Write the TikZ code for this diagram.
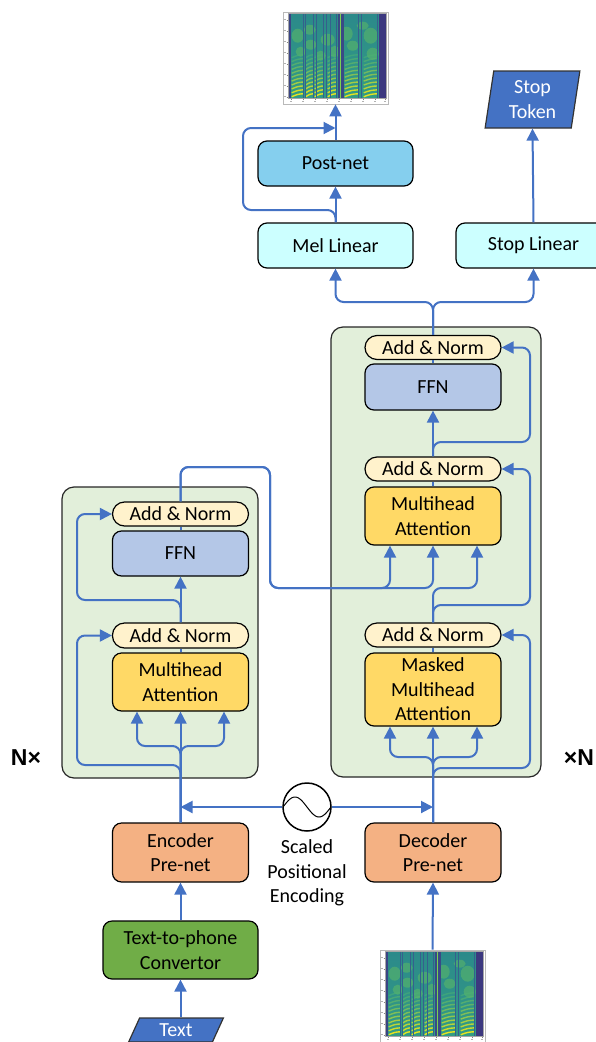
\documentclass[tikz,border=0pt]{standalone}
\usepackage{fontspec}
\setmainfont{Carlito}
\newfontfamily\nfont{Liberation Sans}
\usetikzlibrary{arrows.meta,shapes.geometric,calc}

\definecolor{cblue}{HTML}{4472C4}
\definecolor{blockg}{HTML}{E2EFDA}
\definecolor{anfill}{HTML}{FFF2CC}
\definecolor{ffnfill}{HTML}{B4C7E7}
\definecolor{mhafill}{HTML}{FFD966}
\definecolor{prefill}{HTML}{F4B183}
\definecolor{convfill}{HTML}{70AD47}
\definecolor{linfill}{HTML}{CCFFFF}
\definecolor{postfill}{HTML}{85CFEE}
\definecolor{tokfill}{HTML}{4472C4}
\definecolor{vd}{HTML}{3E2A7A}
\definecolor{vb}{HTML}{35608D}
\definecolor{vbase}{HTML}{2A8E8A}
\definecolor{vg}{HTML}{3DAE7C}
\definecolor{vl}{HTML}{7AD151}
\definecolor{vy}{HTML}{E8E41E}

\newcommand\txtsz{\fontsize{20}{24.5}\selectfont}

\tikzset{
  boxbase/.style={draw=black, line width=1.2pt, rounded corners=9pt, align=center,
    font=\txtsz, inner sep=0pt, text=black},
  addnorm/.style={boxbase, fill=anfill, minimum width=136pt, minimum height=24pt, rounded corners=12pt},
  ffnbox/.style={boxbase, fill=ffnfill, minimum width=136pt, minimum height=46pt},
  mhabox/.style={boxbase, fill=mhafill, minimum width=136pt, minimum height=58pt},
  prebox/.style={boxbase, fill=prefill, minimum width=136pt, minimum height=59pt},
  convbox/.style={boxbase, fill=convfill, minimum width=155pt, minimum height=58pt},
  linbox/.style={boxbase, fill=linfill, minimum width=155pt, minimum height=45pt},
  postbox/.style={boxbase, fill=postfill, minimum width=155pt, minimum height=45pt},
  blockbox/.style={draw=black!85, line width=1.2pt, fill=blockg, rounded corners=12pt, inner sep=0pt},
  tokbox/.style={trapezium, trapezium stretches=true, draw=black!80, line width=1.2pt, fill=tokfill,
    text=white, font=\txtsz, align=center, inner sep=0pt},
  specbox/.style={draw=gray!55, line width=0.6pt, fill=white, minimum width=105pt, minimum height=92pt, inner sep=0pt},
  conn/.style={draw=cblue, line width=2pt, rounded corners=8pt},
  arr/.style={conn, -{Triangle[width=12pt,length=12pt]}},
  nlabel/.style={font=\nfont\bfseries\fontsize{23}{26}\selectfont, inner sep=0pt},
}

\newcommand\specdraw[1]{%
  \begin{scope}[shift={(#1.north west)}]
    \begin{scope}
    \clip (5.5,1.5) rectangle (103.5,87);
    \shade[top color=vbase!90!vb, bottom color=vbase!55!vg] (5.5,1.5) rectangle (103.5,87);
    % upper formant blobs
    \foreach \cx/\cy/\rx/\ry in {15/24/6/7, 27/18/6/5, 28/33/6/5, 45/28/7/6, 52/40/5/6, 64/22/6/7,
        70/34/6/5, 88/24/7/8, 90/42/6/6, 38/44/5/5, 18/40/5/5, 80/14/6/4}{
      \fill[vl, opacity=0.35] (\cx,\cy) ellipse [x radius=\rx, y radius=\ry];
    }
    % harmonic streaks
    \foreach \a/\b in {9/21,23/31,32/41,45/54,62/76,81/95}{
      \foreach \k in {0,...,10}{
        \pgfmathsetmacro\mix{100-9*\k}
        \draw[vy!\mix!vg, line width=1.4pt, opacity={1-0.05*\k}]
          (\a,{85-\k*3.9}) .. controls ({(\a+\b)/2},{84-\k*3.9-1.5}) .. (\b,{84-\k*3.9-2});
      }
    }
    % dark vertical lines
    \foreach \xx in {21,23,31,34,41,44,48,54,76,79,95}{
      \draw[vb, line width=1pt] (\xx,1.5) -- (\xx,87);
    }
    \fill[vd!50!vb] (5.5,1.5) rectangle (8.5,87);
    \fill[vd!40!vb] (55,1.5) rectangle (61,87);
    \draw[vl, line width=1.2pt] (58,1.5) -- (58,87);
    \fill[vd!75!vb] (96,1.5) rectangle (103.5,87);
    \end{scope}
    \draw[gray!70, line width=0.5pt] (5.5,1.5) rectangle (103.5,87);
    % ticks and tiny labels
    \foreach \yy in {8,19,30,41,52,63,74,85}{
      \draw[gray, line width=0.4pt] (4,\yy) -- (5.5,\yy);
      \fill[gray!60] (1.5,{\yy-0.6}) rectangle (3.5,{\yy+0.6});
    }
    \foreach \xx in {8,20,32,44,56,68,80,92,102}{
      \draw[gray, line width=0.4pt] (\xx,87) -- (\xx,88.5);
      \fill[gray!60] ({\xx-1.2},89.5) rectangle ({\xx+1.2},90.7);
    }
  \end{scope}}

\begin{document}
\begin{tikzpicture}[x=1pt,y=-1pt]
\useasboundingbox (0,0) rectangle (595,1042);

% blocks
\node[blockbox, minimum width=196pt, minimum height=291pt] (encblk) at (160,632.5) {};
\node[blockbox, minimum width=210pt, minimum height=450pt] (decblk) at (436,552) {};

% spectrograms
\node[specbox] (spec1) at (335.5,58) {};
\specdraw{spec1}
\node[specbox] (spec2) at (432.5,996) {};
\specdraw{spec2}

% top nodes
\node[postbox] (post) at (335.5,163.5) {Post-net};
\node[linbox] (mel) at (335.5,245.5) {Mel Linear};
\node[linbox] (stopl) at (533.5,245.5) {Stop Linear};
\node[tokbox, trapezium left angle=82, trapezium right angle=98, minimum width=95pt, minimum height=57pt]
  (stoptok) at (532.5,99.5) {Stop\\Token};

% decoder stack
\node[addnorm] (dan3) at (433,347.5) {Add \& Norm};
\node[ffnbox] (dffn) at (433,387) {FFN};
\node[addnorm] (dan2) at (433,469) {Add \& Norm};
\node[mhabox] (dmha) at (433,516) {Multihead\\Attention};
\node[addnorm] (dan1) at (433,635) {Add \& Norm};
\node[mhabox, minimum height=73pt] (dmmha) at (433,689.5) {Masked\\Multihead\\Attention};

% encoder stack
\node[addnorm] (ean2) at (180.5,514) {Add \& Norm};
\node[ffnbox, minimum height=45pt] (effn) at (180.5,553.5) {FFN};
\node[addnorm, minimum height=25pt] (ean1) at (180.5,635.5) {Add \& Norm};
\node[mhabox] (emha) at (180.5,682) {Multihead\\Attention};

% bottom nodes
\node[prebox] (encpre) at (180.5,852.5) {Encoder\\Pre-net};
\node[prebox] (decpre) at (433,852.5) {Decoder\\Pre-net};
\node[convbox] (conv) at (180.5,950) {Text-to-phone\\Convertor};
\node[tokbox, trapezium left angle=69, trapezium right angle=111, minimum width=95pt, minimum height=24pt]
  (txt) at (176,1030) {Text};

% positional encoding
\node[circle, draw=black, line width=1.5pt, minimum size=48pt, inner sep=0pt] (pe) at (307,807) {};
\draw[line width=1pt] plot[domain=-23.5:23.5, samples=50] ({307+\x},{807+10*sin(\x*7.5)});
\node[font=\txtsz, align=center, inner sep=0pt] (petext) at (307,873) {Scaled\\Positional\\Encoding};

% labels
\node[nlabel] (nleft) at (26,758) {N×};
\node[nlabel] (nright) at (579,758) {×N};

% coordinates
\coordinate (eR1) at (77,765);
\coordinate (eR2) at (77,600);
\coordinate (eB1) at (137,746);
\coordinate (eB3) at (224,746);
\coordinate (c1) at (270,467);
\coordinate (dB1) at (390,588);
\coordinate (dB2) at (433,588);
\coordinate (dB3) at (477,588);
\coordinate (dB4) at (390,757);
\coordinate (dB6) at (477,757);
\coordinate (dR1) at (530,768);
\coordinate (dR2) at (530,605);
\coordinate (dR3) at (530,442);
\coordinate (sy) at (0,302);
\coordinate (pR) at (243,210);
\coordinate (pT) at (335.5,128);

% encoder connectors
\draw[arr] (conv.south |- txt.north) -- (conv.south);
\draw[arr] (conv.north) -- (encpre.south);
\draw[arr] (encpre.north) -- (emha.south);
\draw[arr] (encpre.north) |- (eB1) -- (emha.south -| eB1);
\draw[arr] (encpre.north) |- (eB3) -- (emha.south -| eB3);
\draw[arr] (encpre.north) |- (eR1) |- (ean1.west);
\draw[conn] (emha.north) -- (ean1.south);
\draw[arr] (ean1.north) -- (effn.south);
\draw[arr] (ean1.north) |- (eR2) |- (ean2.west);
\draw[conn] (effn.north) -- (ean2.south);
\draw[arr] (ean2.north) |- (c1) |- (dB1) -- (dmha.south -| dB1);
\draw[arr] (ean2.north) |- (c1) |- (dB2) -- (dmha.south);

% decoder connectors
\draw[arr] (spec2.north) -- (decpre.south);
\draw[arr] (decpre.north) -- (dmmha.south);
\draw[arr] (decpre.north) |- (dB4) -- (dmmha.south -| dB4);
\draw[arr] (decpre.north) |- (dB6) -- (dmmha.south -| dB6);
\draw[arr] (decpre.north) |- (dR1) |- (dan1.east);
\draw[conn] (dmmha.north) -- (dan1.south);
\draw[arr] (dan1.north) |- (dB3) -- (dmha.south -| dB3);
\draw[arr] (dan1.north) |- (dR2) |- (dan2.east);
\draw[conn] (dmha.north) -- (dan2.south);
\draw[arr] (dan2.north) -- (dffn.south);
\draw[arr] (dan2.north) |- (dR3) |- (dan3.east);
\draw[conn] (dffn.north) -- (dan3.south);
\draw[arr] (dan3.north) |- (mel.south |- sy) -- (mel.south);
\draw[arr] (dan3.north) |- (stopl.south |- sy) -- (stopl.south);

% output connectors
\draw[arr] (mel.north) -- (post.south);
\draw[arr] (mel.north) |- (pR) |- (pT);
\draw[arr] (post.north) -- (spec1.south);
\draw[arr] (stopl.north) -- (stoptok.south);

% positional encoding arrows
\draw[arr] (pe.west) -- (pe.west -| encpre.north);
\draw[arr] (pe.east) -- (pe.east -| decpre.north);
\end{tikzpicture}
\end{document}
